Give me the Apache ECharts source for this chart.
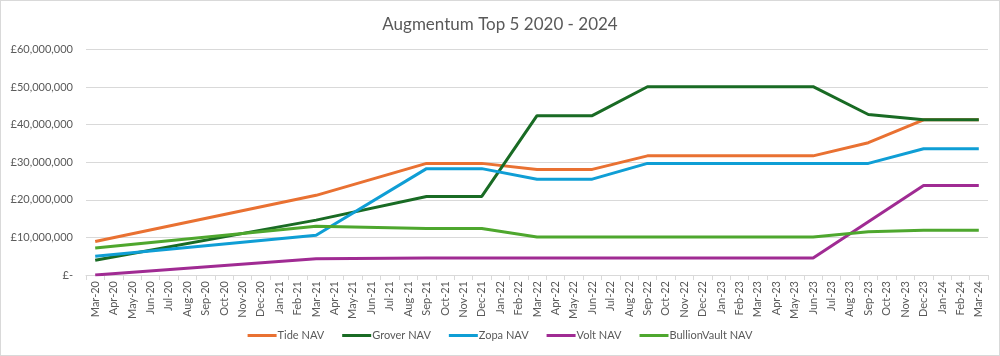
<!DOCTYPE html>
<html>
<head>
<meta charset="utf-8">
<script src="https://cdn.jsdelivr.net/npm/echarts@6/dist/echarts.min.js"></script>
<style>
html,body{margin:0;padding:0;background:#fff;}
#chart{width:998px;height:354px;border:1px solid #d9d9d9;}
</style>
</head>
<body>
<div id="chart"></div>
<script>
const categories = ['Mar-20','Apr-20','May-20','Jun-20','Jul-20','Aug-20','Sep-20','Oct-20','Nov-20','Dec-20',
'Jan-21','Feb-21','Mar-21','Apr-21','May-21','Jun-21','Jul-21','Aug-21','Sep-21','Oct-21','Nov-21','Dec-21',
'Jan-22','Feb-22','Mar-22','Apr-22','May-22','Jun-22','Jul-22','Aug-22','Sep-22','Oct-22','Nov-22','Dec-22',
'Jan-23','Feb-23','Mar-23','Apr-23','May-23','Jun-23','Jul-23','Aug-23','Sep-23','Oct-23','Nov-23','Dec-23',
'Jan-24','Feb-24','Mar-24'];
const pointMonths = ['Mar-20','Mar-21','Sep-21','Dec-21','Mar-22','Jun-22','Sep-22','Dec-22','Mar-23','Jun-23','Sep-23','Dec-23','Mar-24'];
const tideNAV        = [8900000,21200000,29700000,29700000,28100000,28100000,31700000,31700000,31700000,31700000,35200000,41300000,41300000];
const groverNAV      = [3900000,14600000,20900000,20900000,42400000,42400000,50100000,50100000,50100000,50100000,42700000,41300000,41300000];
const zopaNAV        = [5000000,10600000,28300000,28300000,25500000,25500000,29700000,29700000,29700000,29700000,29700000,33600000,33600000];
const voltNAV        = [0,4300000,4500000,4500000,4500000,4500000,4500000,4500000,4500000,4500000,14200000,23800000,23800000];
const bullionVaultNAV= [7200000,13000000,12400000,12400000,10100000,10100000,10100000,10100000,10100000,10100000,11500000,11900000,11900000];
const seriesNames = ['Tide NAV','Grover NAV','Zopa NAV','Volt NAV','BullionVault NAV'];
const seriesValues = [tideNAV, groverNAV, zopaNAV, voltNAV, bullionVaultNAV];
const colors = ['#E97132','#196B24','#0F9ED5','#A02B93','#4EA72E'];
const yTicks = [0,10000000,20000000,30000000,40000000,50000000,60000000];

const font = 'Lato, "Liberation Sans", sans-serif';
const chart = echarts.init(document.getElementById('chart'));
chart.setOption({
  animation:false,
  color: colors,
  title:{text:'Augmentum Top 5 2020 - 2024',left:'center',top:10,
    textStyle:{fontFamily:font,fontSize:17,fontWeight:'normal',color:'#595959'}},
  legend:{bottom:9,left:'center',icon:'rect',itemWidth:29,itemHeight:3,itemGap:18,
    textStyle:{fontFamily:font,fontSize:11,color:'#595959',padding:[0,0,0,-4]},
    data:seriesNames},
  grid:{left:85,right:11,top:48.5,bottom:80},
  xAxis:{type:'category',data:categories,boundaryGap:true,
    axisLine:{lineStyle:{color:'#d9d9d9'}},
    axisTick:{show:true,interval:0,length:5,lineStyle:{color:'#d9d9d9'}},
    axisLabel:{interval:0,rotate:90,fontFamily:font,fontSize:11,color:'#595959',margin:6}},
  yAxis:{type:'value',min:yTicks[0],max:yTicks[yTicks.length-1],interval:10000000,
    axisLine:{show:false},axisTick:{show:false},
    splitLine:{lineStyle:{color:'#d9d9d9'}},
    axisLabel:{fontFamily:font,fontSize:11,color:'#595959',margin:13,
      formatter:v=> v===0 ? '£-' : '£'+v.toLocaleString('en-GB')}},
  series: seriesNames.map((n,i)=>({
    name:n,type:'line',symbol:'none',
    lineStyle:{width:3,color:colors[i]},
    itemStyle:{color:colors[i]},
    data: pointMonths.map((m,j)=>[m, seriesValues[i][j]])
  }))
});
</script>
</body>
</html>
